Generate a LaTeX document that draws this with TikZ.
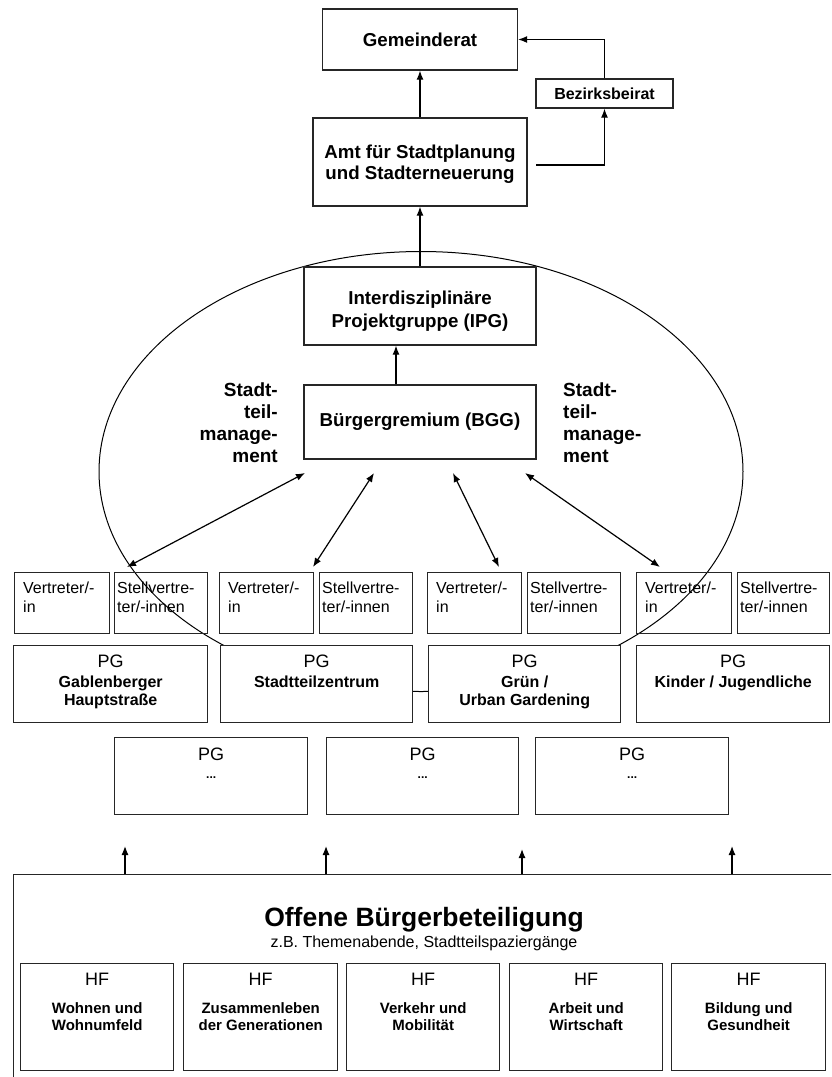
\documentclass[tikz,border=0pt]{standalone}
\usepackage{fontspec}
\setmainfont{Liberation Sans}
\usetikzlibrary{arrows.meta}

\begin{document}
\begin{tikzpicture}[x=1pt, y=-1pt,
  box/.style={draw=black!85, line width=1.4pt, fill=white, inner sep=0pt},
  openbox/.style={draw=black!85, line width=1.4pt, inner sep=0pt, anchor=north west, minimum height=61pt},
  pgbox/.style={box, anchor=north west, minimum height=77pt},
  hfbox/.style={box, anchor=north west, minimum height=107pt},
  title/.style={font=\fontsize{18.7}{21}\selectfont\bfseries, align=center},
  stm/.style={font=\fontsize{19}{22}\selectfont\bfseries, inner sep=0pt},
  vtext/.style={anchor=north west, inner sep=0pt, align=left, font=\fontsize{16}{19}\selectfont},
  pgtext/.style={anchor=north, inner sep=0pt, align=center, font=\fontsize{16}{18}\selectfont\bfseries},
  hftext/.style={anchor=north, inner sep=0pt, align=center, font=\fontsize{15}{17}\selectfont\bfseries},
  arr/.style={black, line width=1.2pt, -{Latex[length=9pt,width=7pt]}},
  dblarr/.style={black, line width=1.2pt, {Latex[length=9pt,width=7pt]}-{Latex[length=9pt,width=7pt]}}]
\useasboundingbox (0,0) rectangle (831,1077);
\clip (0,0) rectangle (831,1077);

\draw[line width=1pt] (421,471.5) ellipse [x radius=322, y radius=220];

\node[box, title, minimum width=195pt, minimum height=61pt] (gr) at (420,39.5) {Gemeinderat};
\node[box, font=\fontsize{16}{18}\selectfont\bfseries, minimum width=137pt, minimum height=29pt] (bbr) at (604.5,93.5) {Bezirksbeirat};
\node[box, minimum width=214pt, minimum height=88pt] (amt) at (420,162) {};
\node[title, inner sep=0pt] (amtt) at (420,164) {Amt für Stadtplanung\\und Stadterneuerung};
\node[box, minimum width=232pt, minimum height=78pt] (ipg) at (420,306) {};
\node[title, inner sep=0pt] (ipgt) at (420,311) {Interdisziplinäre\\[2pt]Projektgruppe (IPG)};
\node[box, title, minimum width=232pt, minimum height=74pt] (bgg) at (420,422) {Bürgergremium (BGG)};

\node[stm, anchor=north east, align=right] (stml) at (278,383) {Stadt-\\teil-\\manage-\\ment};
\node[stm, anchor=north west, align=left] (stmr) at (563,383) {Stadt-\\teil-\\manage-\\ment};

\coordinate (amtout) at (536,165);
\draw[arr] (amtout) -| (bbr.south);
\draw[arr] (bbr.north) |- (gr.east);
\draw[arr] (amt) -- (gr);
\draw[arr] (ipg) -- (amt);
\draw[arr] ([xshift=-24pt]bgg.north) -- ([xshift=-24pt]ipg.south);

\node[openbox, minimum width=95pt] (v1) at (14,572) {};
\node[openbox, minimum width=93pt] (s1) at (114,572) {};
\node[openbox, minimum width=94pt] (v2) at (219,572) {};
\node[openbox, minimum width=93pt] (s2) at (319,572) {};
\node[openbox, minimum width=94pt] (v3) at (427,572) {};
\node[openbox, minimum width=93pt] (s3) at (527,572) {};
\node[openbox, minimum width=95pt] (v4) at (636,572) {};
\node[openbox, minimum width=92pt] (s4) at (737,572) {};
\node[vtext] (v1t) at ([xshift=9pt,yshift=-9.3pt]v1.north west) {Vertreter/-\\in};
\node[vtext] (s1t) at ([xshift=3pt,yshift=-9.3pt]s1.north west) {Stellvertre-\\ter/-innen};
\node[vtext] (v2t) at ([xshift=9pt,yshift=-9.3pt]v2.north west) {Vertreter/-\\in};
\node[vtext] (s2t) at ([xshift=3pt,yshift=-9.3pt]s2.north west) {Stellvertre-\\ter/-innen};
\node[vtext] (v3t) at ([xshift=9pt,yshift=-9.3pt]v3.north west) {Vertreter/-\\in};
\node[vtext] (s3t) at ([xshift=3pt,yshift=-9.3pt]s3.north west) {Stellvertre-\\ter/-innen};
\node[vtext] (v4t) at ([xshift=9pt,yshift=-9.3pt]v4.north west) {Vertreter/-\\in};
\node[vtext] (s4t) at ([xshift=3pt,yshift=-9.3pt]s4.north west) {Stellvertre-\\ter/-innen};

\coordinate (b1) at (305,473);
\coordinate (b2) at (374,473);
\coordinate (b3) at (453,473);
\coordinate (b4) at (525,473);
\coordinate (r1) at (127,567);
\coordinate (r2) at (313,567);
\coordinate (r3) at (499,567);
\coordinate (r4) at (660,567);
\draw[dblarr] (b1) -- (r1);
\draw[dblarr] (b2) -- (r2);
\draw[dblarr] (b3) -- (r3);
\draw[dblarr] (b4) -- (r4);

\node[pgbox, minimum width=194pt] (p1) at (13,645) {};
\node[pgbox, minimum width=192pt] (p2) at (220,645) {};
\node[pgbox, minimum width=192pt] (p3) at (428,645) {};
\node[pgbox, minimum width=193pt] (p4) at (636,645) {};
\node[pgtext] (p1t) at ([yshift=-9.5pt]p1.north) {{\fontsize{18}{18}\selectfont\mdseries PG}\\[2.3pt]Gablenberger\\Hauptstraße};
\node[pgtext] (p2t) at ([yshift=-9.5pt]p2.north) {{\fontsize{18}{18}\selectfont\mdseries PG}\\[2.3pt]Stadtteilzentrum};
\node[pgtext] (p3t) at ([yshift=-9.5pt]p3.north) {{\fontsize{18}{18}\selectfont\mdseries PG}\\[2.3pt]Grün /\\Urban Gardening};
\node[pgtext] (p4t) at ([yshift=-9.5pt]p4.north) {{\fontsize{18}{18}\selectfont\mdseries PG}\\[2.3pt]Kinder / Jugendliche};

\node[pgbox, minimum width=193pt] (q1) at (114,737) {};
\node[pgbox, minimum width=192pt] (q2) at (326,737) {};
\node[pgbox, minimum width=193pt] (q3) at (535,737) {};
\node[pgtext] (q1t) at ([yshift=-10.5pt]q1.north) {{\fontsize{18}{18}\selectfont\mdseries PG}\\[0.6pt]{\fontsize{12}{12}\selectfont ...}};
\node[pgtext] (q2t) at ([yshift=-10.5pt]q2.north) {{\fontsize{18}{18}\selectfont\mdseries PG}\\[0.6pt]{\fontsize{12}{12}\selectfont ...}};
\node[pgtext] (q3t) at ([yshift=-10.5pt]q3.north) {{\fontsize{18}{18}\selectfont\mdseries PG}\\[0.6pt]{\fontsize{12}{12}\selectfont ...}};

\node[box, anchor=north west, minimum width=850pt, minimum height=250pt] (obb) at (13,874) {};
\node[font=\fontsize{26.5}{30}\selectfont\bfseries, inner sep=0pt] (obt) at (424,920) {Offene Bürgerbeteiligung};
\node[font=\fontsize{16}{18}\selectfont, inner sep=0pt] (obs) at (424,943) {z.B. Themenabende, Stadtteilspaziergänge};

\coordinate (u1) at (125,846);
\coordinate (u2) at (326,846);
\coordinate (u3) at (522,849);
\coordinate (u4) at (732,846);
\draw[arr] (u1 |- obb.north) -- (u1);
\draw[arr] (u2 |- obb.north) -- (u2);
\draw[arr] (u3 |- obb.north) -- (u3);
\draw[arr] (u4 |- obb.north) -- (u4);

\node[hfbox, minimum width=153pt] (h1) at (20,963) {};
\node[hfbox, minimum width=154pt] (h2) at (183,963) {};
\node[hfbox, minimum width=153pt] (h3) at (346,963) {};
\node[hfbox, minimum width=153pt] (h4) at (509,963) {};
\node[hfbox, minimum width=154pt] (h5) at (671,963) {};
\node[hftext] (h1t) at ([yshift=-9.5pt]h1.north) {{\fontsize{18}{18}\selectfont\mdseries HF}\\[11pt]Wohnen und\\Wohnumfeld};
\node[hftext] (h2t) at ([yshift=-9.5pt]h2.north) {{\fontsize{18}{18}\selectfont\mdseries HF}\\[11pt]Zusammenleben\\der Generationen};
\node[hftext] (h3t) at ([yshift=-9.5pt]h3.north) {{\fontsize{18}{18}\selectfont\mdseries HF}\\[11pt]Verkehr und\\Mobilität};
\node[hftext] (h4t) at ([yshift=-9.5pt]h4.north) {{\fontsize{18}{18}\selectfont\mdseries HF}\\[11pt]Arbeit und\\Wirtschaft};
\node[hftext] (h5t) at ([yshift=-9.5pt]h5.north) {{\fontsize{18}{18}\selectfont\mdseries HF}\\[11pt]Bildung und\\Gesundheit};
\end{tikzpicture}
\end{document}
